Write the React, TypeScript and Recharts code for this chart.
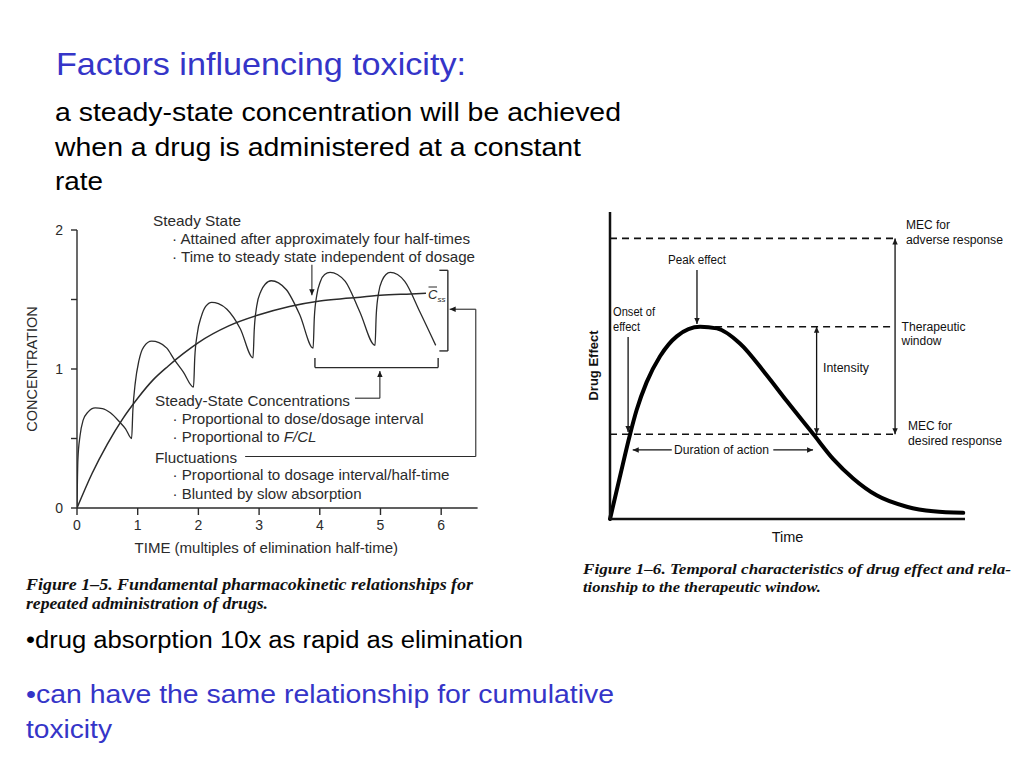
import React from "react";
import { LineChart, Line, XAxis, YAxis, ReferenceLine } from "recharts";

// Figure 1-5: repeated dosing, concentration vs time (elimination half-times)
const doseTimes = [
  0, 0.015, 0.05, 0.1, 0.18, 0.3, 0.42, 0.55, 0.7, 0.8, 0.9,
  0.92, 0.96, 1.02, 1.1, 1.23, 1.35, 1.48, 1.6, 1.75, 1.92,
  1.94, 1.98, 2.05, 2.12, 2.22, 2.33, 2.47, 2.69, 2.9,
  2.92, 2.96, 3.03, 3.1, 3.2, 3.32, 3.45, 3.67, 3.89,
  3.91, 3.95, 4.01, 4.08, 4.17, 4.29, 4.42, 4.66, 4.91,
  4.93, 4.97, 5.03, 5.09, 5.16, 5.28, 5.4, 5.65, 5.91,
];
const doseLevels = [
  0, 0.35, 0.52, 0.63, 0.69, 0.72, 0.715, 0.685, 0.62, 0.57, 0.5,
  0.7, 0.9, 1.06, 1.16, 1.2, 1.19, 1.15, 1.07, 0.98, 0.87,
  1.08, 1.25, 1.38, 1.45, 1.48, 1.47, 1.43, 1.29, 1.08,
  1.28, 1.45, 1.56, 1.61, 1.635, 1.62, 1.57, 1.39, 1.15,
  1.37, 1.53, 1.63, 1.68, 1.695, 1.68, 1.63, 1.41, 1.17,
  1.39, 1.55, 1.64, 1.68, 1.695, 1.68, 1.63, 1.41, 1.17,
];
const meanTimes = [0, 0.25, 0.5, 0.75, 1, 1.25, 1.5, 1.75, 2, 2.5, 3, 3.5, 4, 4.5, 5, 5.5, 5.75];
const meanLevels = [0, 0.25, 0.46, 0.64, 0.79, 0.92, 1.02, 1.11, 1.19, 1.31, 1.39, 1.45, 1.49, 1.51, 1.53, 1.54, 1.545];
const timeTicks = [0, 1, 2, 3, 4, 5, 6];
const concTicks = [0, 0.5, 1, 1.5, 2];

// Figure 1-6: drug effect vs time (arbitrary units)
const effectTimes = [0, 0.28, 0.56, 0.75, 1.03, 1.41, 1.88, 2.54, 3.01, 3.66, 4.41, 4.98, 5.73, 6.29, 6.85, 7.51, 8.36, 9.11, 9.95];
const effectLevels = [0, 1.38, 2.74, 3.55, 4.45, 5.3, 5.95, 6.26, 6.21, 5.72, 4.69, 3.84, 2.76, 1.95, 1.32, 0.77, 0.4, 0.25, 0.2];
const mecDesired = 2.76;
const peakEffect = 6.26;
const mecAdverse = 9.14;

const doseData = doseTimes.map((t, i) => ({ t, c: doseLevels[i] }));
const meanData = meanTimes.map((t, i) => ({ t, c: meanLevels[i] }));
const effectData = effectTimes.map((t, i) => ({ t, e: effectLevels[i] }));

const INK = "#2b2b2b";
const BLUE = "#3535c8";
const SANS = "'Liberation Sans', Arial, Helvetica, sans-serif";
const SERIF = "'Liberation Serif', 'Times New Roman', serif";

const arrow = (start: boolean, end: boolean, color: string, w = 1.3) => (p: any) => (
  <line
    x1={p.x1}
    y1={p.y1}
    x2={p.x2}
    y2={p.y2}
    stroke={color}
    strokeWidth={w}
    markerStart={start ? "url(#tip)" : undefined}
    markerEnd={end ? "url(#tip)" : undefined}
  />
);

function seg(x1: number, y1: number, x2: number, y2: number) {
  return [
    { x: x1, y: y1 },
    { x: x2, y: y2 },
  ];
}

// text stretched to the width it has in the scanned slide
function T({ x, y, w, children }: { x: number; y: number; w: number; children: React.ReactNode }) {
  return (
    <text x={x} y={y} textLength={w} lengthAdjust="spacingAndGlyphs">
      {children}
    </text>
  );
}

function PkChart() {
  return (
    <LineChart
      width={500}
      height={370}
      margin={{ top: 30, right: 22.4, bottom: 32, left: 17 }}
      style={{ position: "absolute", left: 0, top: 200 }}
    >
      <XAxis
        type="number"
        dataKey="t"
        domain={[0, 6.6]}
        ticks={timeTicks}
        allowDataOverflow
        height={30}
        tickSize={7}
        tickMargin={5}
        stroke={INK}
        strokeWidth={1.4}
        tick={{ fill: INK, fontSize: 14, fontFamily: SANS }}
        label={{
          value: "TIME (multiples of elimination half-time)",
          position: "bottom",
          offset: 4,
          dx: -11,
          fill: INK,
          fontSize: 15,
          fontFamily: SANS,
        }}
      />
      <YAxis
        type="number"
        dataKey="c"
        domain={[0, 2]}
        ticks={concTicks}
        width={60}
        tickSize={6}
        tickMargin={8}
        stroke={INK}
        strokeWidth={1.4}
        tickFormatter={(v: number) => (Number.isInteger(v) ? String(v) : "")}
        tick={{ fill: INK, fontSize: 14, fontFamily: SANS }}
        label={{
          value: "CONCENTRATION",
          angle: -90,
          position: "insideLeft",
          offset: 15,
          fill: INK,
          fontSize: 14.5,
          fontFamily: SANS,
          style: { textAnchor: "middle" },
        }}
      />
      <Line data={meanData} dataKey="c" type="monotone" stroke={INK} strokeWidth={1.5} dot={false} isAnimationActive={false} />
      <Line data={doseData} dataKey="c" type="monotone" stroke={INK} strokeWidth={1.3} dot={false} isAnimationActive={false} />
      {/* steady state arrow */}
      <ReferenceLine segment={seg(3.87, 1.75, 3.87, 1.53)} shape={arrow(false, true, INK, 1.1)} />
      {/* right bracket */}
      <ReferenceLine segment={seg(6.11, 1.71, 6.11, 1.13)} stroke={INK} strokeWidth={1.4} />
      <ReferenceLine segment={seg(5.97, 1.71, 6.11, 1.71)} stroke={INK} strokeWidth={1.4} />
      <ReferenceLine segment={seg(5.97, 1.13, 6.11, 1.13)} stroke={INK} strokeWidth={1.4} />
      {/* lower bracket */}
      <ReferenceLine segment={seg(3.92, 1.01, 5.95, 1.01)} stroke={INK} strokeWidth={1.4} />
      <ReferenceLine segment={seg(3.92, 1.01, 3.92, 1.08)} stroke={INK} strokeWidth={1.4} />
      <ReferenceLine segment={seg(5.95, 1.01, 5.95, 1.08)} stroke={INK} strokeWidth={1.4} />
      <ReferenceLine segment={seg(4.58, 0.79, 4.99, 0.79)} stroke={INK} strokeWidth={1.1} />
      <ReferenceLine segment={seg(4.99, 0.79, 4.99, 0.985)} shape={arrow(false, true, INK, 1.1)} />
      {/* fluctuations leader */}
      <ReferenceLine segment={seg(2.77, 0.37, 6.57, 0.37)} stroke={INK} strokeWidth={1.1} />
      <ReferenceLine segment={seg(6.57, 0.37, 6.57, 1.43)} stroke={INK} strokeWidth={1.1} />
      <ReferenceLine segment={seg(6.57, 1.43, 6.14, 1.43)} shape={arrow(false, true, INK, 1.1)} />
    </LineChart>
  );
}

function EffectChart() {
  const dash = "7 5";
  return (
    <LineChart
      width={440}
      height={360}
      margin={{ top: 12, right: 35, bottom: 21, left: 20 }}
      style={{ position: "absolute", left: 560, top: 200 }}
    >
      <XAxis
        type="number"
        dataKey="t"
        domain={[0, 10]}
        height={20}
        tick={false}
        tickLine={false}
        stroke="#111"
        strokeWidth={2.5}
        label={{ value: "Time", position: "insideBottom", offset: -3, fill: "#111", fontSize: 14.5, fontFamily: SANS }}
      />
      <YAxis
        type="number"
        dataKey="e"
        domain={[0, 10]}
        width={30}
        tick={false}
        tickLine={false}
        stroke="#111"
        strokeWidth={2.5}
        label={{
          value: "Drug Effect",
          angle: -90,
          position: "insideLeft",
          offset: 13,
          fill: "#111",
          fontSize: 13,
          fontWeight: "bold",
          fontFamily: SANS,
          style: { textAnchor: "middle" },
        }}
      />
      <ReferenceLine segment={seg(0, mecAdverse, 8.03, mecAdverse)} stroke="#111" strokeWidth={1.6} strokeDasharray={dash} />
      <ReferenceLine segment={seg(2.96, peakEffect, 8.03, peakEffect)} stroke="#111" strokeWidth={1.6} strokeDasharray={dash} />
      <ReferenceLine segment={seg(0, mecDesired, 8.03, mecDesired)} stroke="#111" strokeWidth={1.6} strokeDasharray={dash} />
      <Line
        data={effectData}
        dataKey="e"
        type="monotone"
        stroke="#000"
        strokeWidth={4}
        strokeLinecap="round"
        dot={false}
        isAnimationActive={false}
      />
      <ReferenceLine segment={seg(8.03, mecDesired, 8.03, mecAdverse)} shape={arrow(true, true, "#111", 1.3)} />
      <ReferenceLine segment={seg(5.82, mecDesired, 5.82, peakEffect)} shape={arrow(true, true, "#111", 1.3)} />
      <ReferenceLine segment={seg(2.45, 8.11, 2.45, 6.35)} shape={arrow(false, true, "#111", 1.3)} />
      <ReferenceLine segment={seg(0.51, 5.93, 0.51, 2.83)} shape={arrow(false, true, "#111", 1.3)} />
      <ReferenceLine segment={seg(1.74, 2.25, 0.64, 2.25)} shape={arrow(false, true, "#111", 1.3)} />
      <ReferenceLine segment={seg(4.6, 2.25, 5.72, 2.25)} shape={arrow(false, true, "#111", 1.3)} />
    </LineChart>
  );
}

function Overlay() {
  const cap = { fontFamily: SERIF, fontWeight: "bold" as const, fontStyle: "italic" as const, fill: "#111", fontSize: 16 };
  return (
    <svg width={1024} height={768} style={{ position: "absolute", left: 0, top: 0, pointerEvents: "none" }}>
      <defs>
        <marker id="tip" viewBox="0 0 10 10" refX="10" refY="5" markerWidth="7" markerHeight="6" markerUnits="userSpaceOnUse" orient="auto-start-reverse">
          <path d="M0,0.5 L10,5 L0,9.5 z" fill="#1a1a1a" />
        </marker>
      </defs>
      {/* slide text */}
      <g fontFamily={SANS} fontSize={32} fill={BLUE}>
        <T x={56} y={75} w={410}>Factors influencing toxicity:</T>
      </g>
      <g fontFamily={SANS} fontSize={25} fill="#000">
        <T x={55} y={121} w={566}>a steady-state concentration will be achieved</T>
        <T x={55} y={155.5} w={526}>when a drug is administered at a constant</T>
        <T x={55} y={190} w={48}>rate</T>
      </g>
      <g fontFamily={SANS} fontSize={23} fill="#000">
        <T x={26} y={648} w={497}>•drug absorption 10x as rapid as elimination</T>
      </g>
      <g fontFamily={SANS} fontSize={25.5} fill={BLUE}>
        <T x={26} y={703} w={588}>•can have the same relationship for cumulative</T>
        <T x={26} y={738} w={86}>toxicity</T>
      </g>
      {/* figure 1-5 annotations */}
      <g fontFamily={SANS} fontSize={15} fill={INK}>
        <T x={153} y={226} w={88}>Steady State</T>
        <T x={172} y={243.5} w={298}>· Attained after approximately four half-times</T>
        <T x={172} y={261.5} w={303}>· Time to steady state independent of dosage</T>
        <T x={155} y={405.5} w={195}>Steady-State Concentrations</T>
        <T x={172.5} y={423.5} w={251}>· Proportional to dose/dosage interval</T>
        <T x={172.5} y={442} w={144}>
          · Proportional to <tspan fontStyle="italic">F/CL</tspan>
        </T>
        <T x={155} y={463} w={82}>Fluctuations</T>
        <T x={172.5} y={480} w={277}>· Proportional to dosage interval/half-time</T>
        <T x={172.5} y={498.5} w={189}>· Blunted by slow absorption</T>
      </g>
      <text x={428} y={299} fontSize={13} fontStyle="italic" fill={INK} fontFamily={SANS}>
        C<tspan fontSize={8} dy={3}>ss</tspan>
      </text>
      <line x1={428.5} y1={287} x2={437} y2={287} stroke={INK} strokeWidth={1} />
      {/* figure 1-6 annotations */}
      <g fontFamily={SANS} fontSize={12} fill="#111">
        <T x={906} y={229} w={44}>MEC for</T>
        <T x={906} y={244} w={97}>adverse response</T>
        <T x={668} y={264} w={58}>Peak effect</T>
        <T x={613} y={316} w={42}>Onset of</T>
        <T x={613} y={331} w={27}>effect</T>
        <T x={901.5} y={330.5} w={64}>Therapeutic</T>
        <T x={901.5} y={345} w={40}>window</T>
        <T x={823} y={371.5} w={46}>Intensity</T>
        <T x={908} y={430} w={44}>MEC for</T>
        <T x={908} y={445} w={94}>desired response</T>
        <T x={674} y={454} w={95}>Duration of action</T>
      </g>
      {/* captions */}
      <g {...cap}>
        <T x={26} y={590} w={447}>Figure 1–5. Fundamental pharmacokinetic relationships for</T>
        <T x={26} y={608.5} w={242}>repeated administration of drugs.</T>
      </g>
      <g {...cap} fontSize={15.5}>
        <T x={583} y={574} w={428}>Figure 1–6. Temporal characteristics of drug effect and rela-</T>
        <T x={583} y={592} w={238}>tionship to the therapeutic window.</T>
      </g>
    </svg>
  );
}

export default function App() {
  return (
    <div style={{ position: "fixed", left: 0, top: 0, width: 1024, height: 768, background: "#fff", overflow: "hidden" }}>
      <PkChart />
      <EffectChart />
      <Overlay />
    </div>
  );
}
